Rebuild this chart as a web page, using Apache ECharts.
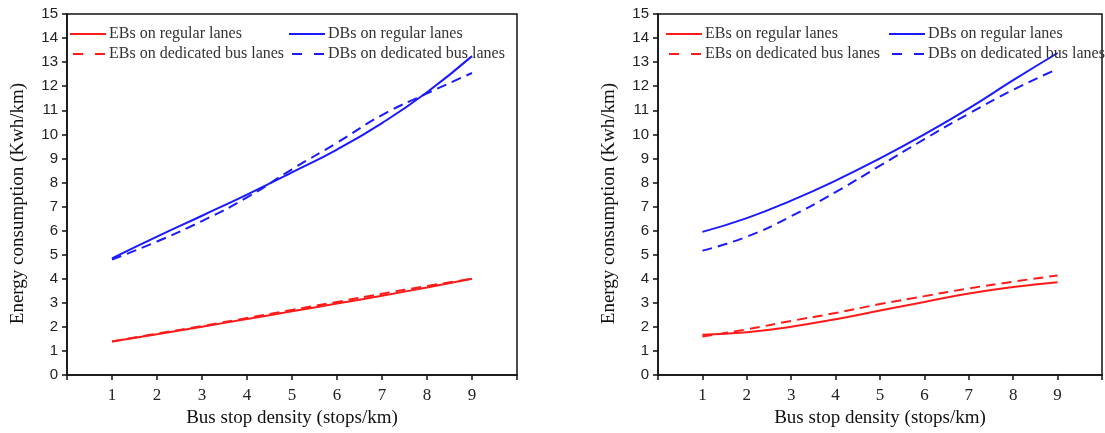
<!DOCTYPE html>
<html>
<head>
<meta charset="utf-8">
<script src="https://cdn.jsdelivr.net/npm/echarts@6/dist/echarts.min.js"></script>
<style>
html,body{margin:0;padding:0;background:#fff;}
#chart{width:1105px;height:433px;}
</style>
</head>
<body>
<div id="chart"></div>
<script>
// Data
const xValues = [1, 2, 3, 4, 5, 6, 7, 8, 9];
const yTicks = [0,1,2,3,4,5,6,7,8,9,10,11,12,13,14,15];
const seriesNames = ['EBs on regular lanes', 'EBs on dedicated bus lanes', 'DBs on regular lanes', 'DBs on dedicated bus lanes'];

// Left panel
const leftEBRegular   = [1.40, 1.70, 2.01, 2.33, 2.65, 2.97, 3.30, 3.64, 4.00];
const leftEBDedicated = [1.40, 1.72, 2.04, 2.37, 2.71, 3.04, 3.38, 3.70, 4.00];
const leftDBRegular   = [4.85, 5.75, 6.62, 7.50, 8.42, 9.37, 10.47, 11.75, 13.25];
const leftDBDedicated = [4.80, 5.55, 6.40, 7.38, 8.55, 9.65, 10.80, 11.70, 12.55];

// Right panel
const rightEBRegular   = [1.68, 1.78, 2.01, 2.32, 2.68, 3.04, 3.39, 3.66, 3.86];
const rightEBDedicated = [1.60, 1.90, 2.25, 2.58, 2.95, 3.28, 3.60, 3.88, 4.14];
const rightDBRegular   = [5.95, 6.52, 7.25, 8.08, 9.00, 10.00, 11.08, 12.25, 13.38];
const rightDBDedicated = [5.17, 5.75, 6.60, 7.60, 8.70, 9.80, 10.86, 11.85, 12.72];

const RED = '#ff1a1a';
const BLUE = '#1a1aff';
const DASH = [10, 6];
const LEGEND_DASH = [10, 12];

function pairs(vals){ return xValues.map((x,i)=>[x, vals[i]]); }

function makeGrid(left, right){
  return {left:left, right:right, top:14, bottom:54, show:true, borderColor:'#111', borderWidth:1.5, backgroundColor:'transparent'};
}

function makeX(gi){
  return {
    type:'value', gridIndex:gi, min:0, max:10, interval:1,
    name:'Bus stop density (stops/km)', nameLocation:'middle', nameGap:32,
    nameTextStyle:{fontFamily:'Liberation Serif', fontSize:19, color:'#111'},
    axisLine:{show:true, onZero:false, lineStyle:{color:'#111', width:1.5}},
    axisTick:{show:true, inside:false, length:5, lineStyle:{color:'#111', width:1.5}},
    splitLine:{show:false},
    axisLabel:{margin:12, fontFamily:'Liberation Serif', fontSize:17, color:'#222',
      formatter:function(v){ return (v>=1 && v<=9) ? String(v) : ''; }}
  };
}

function makeY(gi){
  return {
    type:'value', gridIndex:gi, min:0, max:15, interval:1,
    name:'Energy consumption (Kwh/km)', nameLocation:'middle', nameGap:39,
    nameTextStyle:{fontFamily:'Liberation Serif', fontSize:19, color:'#111', padding:[0,18,0,0]},
    axisLine:{show:true, onZero:false, lineStyle:{color:'#111', width:1.5}},
    axisTick:{show:true, inside:false, length:5, lineStyle:{color:'#111', width:1.5}},
    splitLine:{show:false},
    axisLabel:{margin:9, fontFamily:'Liberation Sans', fontSize:15, color:'#222',
      formatter:function(v){ return yTicks.indexOf(v) >= 0 ? String(v) : ''; }}
  };
}

function line(name, gi, vals, color, dashed){
  return {
    type:'line', name:name, xAxisIndex:gi, yAxisIndex:gi, data:pairs(vals),
    smooth:true, symbol:'none', showSymbol:false,
    lineStyle:{color:color, width:2, type: dashed ? DASH : 'solid'},
    itemStyle:{color:color}
  };
}

function legend(left, names){
  return {
    left:left, top:26, orient:'vertical', itemWidth:36, itemHeight:12, itemGap:4, padding:0,
    selectedMode:false,
    itemStyle:{opacity:0},
    textStyle:{fontFamily:'Liberation Serif', fontSize:16, color:'#333', padding:[0,0,0,-2]},
    data:[ {name:names[0]}, {name:names[1], lineStyle:{type:LEGEND_DASH, dashOffset:-3}} ]
  };
}

const chart = echarts.init(document.getElementById('chart'), null, {renderer:'canvas'});
chart.setOption({
  animation:false,
  backgroundColor:'#fff',
  grid:[ makeGrid(67, 588), makeGrid(658, -6) ],
  xAxis:[ makeX(0), makeX(1) ],
  yAxis:[ makeY(0), makeY(1) ],
  legend:[
    legend(69, [seriesNames[0], seriesNames[1]]),
    legend(288, [seriesNames[2], seriesNames[3]]),
    legend(665, [seriesNames[0], seriesNames[1]]),
    legend(888, [seriesNames[2], seriesNames[3]])
  ],
  series:[
    line(seriesNames[0], 0, leftEBRegular, RED, false),
    line(seriesNames[1], 0, leftEBDedicated, RED, true),
    line(seriesNames[2], 0, leftDBRegular, BLUE, false),
    line(seriesNames[3], 0, leftDBDedicated, BLUE, true),
    line(seriesNames[0], 1, rightEBRegular, RED, false),
    line(seriesNames[1], 1, rightEBDedicated, RED, true),
    line(seriesNames[2], 1, rightDBRegular, BLUE, false),
    line(seriesNames[3], 1, rightDBDedicated, BLUE, true)
  ]
});
</script>
</body>
</html>
